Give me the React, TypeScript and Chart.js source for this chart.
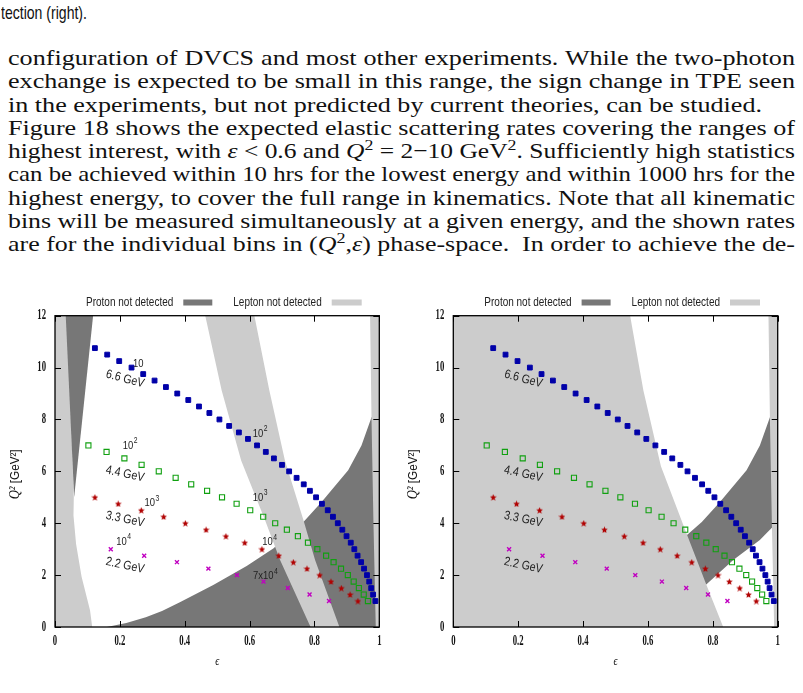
import React, { useEffect, useLayoutEffect, useRef } from 'react';
import { Chart, registerables } from 'chart.js';

Chart.register(...registerables);

// ---------------- data ----------------
const q2_66 = [10.75, 10.5, 10.25, 10.0, 9.75, 9.5, 9.25, 9.0, 8.75, 8.5, 8.25, 8.0, 7.75, 7.5, 7.25, 7.0, 6.75, 6.5, 6.25, 6.0, 5.75, 5.5, 5.25, 5.0, 4.75, 4.5, 4.25, 4.0, 3.75, 3.5, 3.25, 3.0, 2.75, 2.5, 2.25, 2.0, 1.75, 1.5, 1.25, 1.0];
const eps_66 = [0.123, 0.161, 0.198, 0.236, 0.272, 0.307, 0.342, 0.377, 0.411, 0.444, 0.476, 0.507, 0.537, 0.567, 0.595, 0.623, 0.65, 0.675, 0.7, 0.722, 0.745, 0.767, 0.786, 0.805, 0.823, 0.841, 0.857, 0.872, 0.886, 0.899, 0.912, 0.923, 0.933, 0.944, 0.953, 0.962, 0.969, 0.975, 0.981, 0.988];

const q2_44 = [7.0, 6.75, 6.5, 6.25, 6.0, 5.75, 5.5, 5.25, 5.0, 4.75, 4.5, 4.25, 4.0, 3.75, 3.5, 3.25, 3.0, 2.75, 2.5, 2.25, 2.0, 1.75, 1.5, 1.25, 1.0];
const eps_44 = [0.103, 0.159, 0.214, 0.267, 0.32, 0.372, 0.42, 0.469, 0.515, 0.56, 0.602, 0.642, 0.679, 0.715, 0.749, 0.78, 0.809, 0.836, 0.859, 0.882, 0.903, 0.921, 0.937, 0.952, 0.965];

const q2_33 = [5.0, 4.75, 4.5, 4.25, 4.0, 3.75, 3.5, 3.25, 3.0, 2.75, 2.5, 2.25, 2.0, 1.75, 1.5, 1.25, 1.0];
const eps_33 = [0.123, 0.195, 0.266, 0.335, 0.402, 0.466, 0.527, 0.585, 0.638, 0.69, 0.735, 0.777, 0.816, 0.851, 0.883, 0.91, 0.934];

const q2_22 = [3.0, 2.75, 2.5, 2.25, 2.0, 1.75, 1.5, 1.25, 1.0];
const eps_22 = [0.172, 0.275, 0.376, 0.473, 0.561, 0.643, 0.718, 0.785, 0.845];

const xMin = 0, xMax = 1, xStep = 0.2;
const yMin = 0, yMax = 12, yStep = 2;
const xTitle = 'ϵ';
const yTitleMath = 'Q²';
const yTitleUnit = ' [GeV²]';
const legendLabels = ['Proton not detected', 'Lepton not detected'];

const energyLabels = ['6.6 GeV', '4.4 GeV', '3.3 GeV', '2.2 GeV'];
const energyLabelEps = [0.216, 0.216, 0.216, 0.216];
const energyLabelQ2 = [9.56, 5.9, 4.15, 2.37];

const rateBase = ['10', '10', '10', '10', '10', '10', '10', '7x10'];
const rateExp = ['', '2', '3', '4', '2', '3', '4', '4'];
const rateEps = [0.257, 0.231, 0.298, 0.211, 0.632, 0.632, 0.661, 0.648];
const rateQ2 = [10.14, 7.0, 4.78, 3.3, 7.45, 4.99, 3.28, 1.96];

// region boundaries (eps, Q2)
const leftStripEps = [-0.02, 0.036, 0.058, 0.057, 0.065, 0.082, 0.108, 0.12, -0.02];
const leftStripQ2 = [12.5, 12.5, 5.0, 4.3, 3.2, 1.94, 0.65, -0.5, -0.5];
const wedgeEps = [0.032, 0.12, 0.059];
const wedgeQ2 = [12.3, 12.3, 5.0];
const bandEps = [0.458, 0.514, 0.574, 0.6475, 0.694, 0.788, 0.877, 0.802, 0.766, 0.709, 0.661, 0.61];
const bandQ2 = [12.3, 9.12, 6.42, 4.12, 2.58, 0, 0, 2.58, 4.12, 6.42, 9.12, 12.3];
const rightStripEps = [0.971, 1.05, 1.05, 0.99, 0.982, 0.976];
const rightStripQ2 = [12.5, 12.5, -0.5, -0.5, 4, 8];
const protonUpperEps = [0.16, 0.22, 0.28, 0.33, 0.385, 0.488, 0.591, 0.673, 0.766, 0.822, 0.904, 0.945, 0.976, 1.05];
const protonUpperQ2 = [0, 0.15, 0.38, 0.62, 0.95, 1.62, 2.35, 3.03, 4.05, 4.82, 6.04, 7.0, 8.09, 8.4];
const protonCloseEps = [1.05, 0.16];
const protonCloseQ2 = [-0.5, -0.5];
const rightLightEps = [-0.05, 0.538, 0.586, 0.64, 0.719, 0.781, 0.832, 0.85, -0.05];
const rightLightQ2 = [12.5, 12.5, 9.12, 6.2, 3.6, 1.6, 0, -0.5, -0.5];
const protonBandTopEps = [1.05, 0.976, 0.945, 0.904, 0.822, 0.766, 0.673];
const protonBandTopQ2 = [8.4, 8.09, 7.0, 6.04, 4.82, 4.05, 3.03];
const protonBandLowEps = [0.66, 0.74, 0.778, 0.863, 0.945, 0.985, 1.05];
const protonBandLowQ2 = [2.0, 1.3, 1.62, 2.58, 3.35, 3.86, 4.1];

// ---------------- styles ----------------
const SANS = '"Liberation Sans", "DejaVu Sans", sans-serif';
const SERIF = '"Liberation Serif", "DejaVu Serif", serif';
const DARK = '#777777';
const LIGHT = '#cccccc';
const BLUE = '#0000a8';
const GREEN = '#10a010';
const RED = '#b00000';
const MAGENTA = '#c000c0';

function pts(eps: number[], q2: number[]) {
  return eps.map((e, i) => ({ x: e, y: q2[i] }));
}

function makeStar(color: string, size: number) {
  const c = document.createElement('canvas');
  c.width = size;
  c.height = size;
  const g = c.getContext('2d')!;
  const cx = size / 2, cy = size / 2 + 0.3, R = size / 2, r = R * 0.45;
  g.beginPath();
  for (let i = 0; i < 10; i++) {
    const a = -Math.PI / 2 + (i * Math.PI) / 5;
    const rr = i % 2 === 0 ? R : r;
    g.lineTo(cx + rr * Math.cos(a), cy + rr * Math.sin(a));
  }
  g.closePath();
  g.fillStyle = color;
  g.fill();
  return c;
}

function region(label: string, data: any[], color: string, order: number) {
  return {
    label,
    data,
    showLine: true,
    fill: 'shape',
    backgroundColor: color,
    borderColor: 'rgba(0,0,0,0)',
    borderWidth: 0,
    pointRadius: 0,
    pointHoverRadius: 0,
    tension: 0,
    order,
  };
}

function drawText(ctx: CanvasRenderingContext2D, text: string, x: number, y: number, font: string, sx: number, align: CanvasTextAlign, rot = 0, color = '#111') {
  ctx.save();
  ctx.translate(x, y);
  if (rot) ctx.rotate(rot);
  ctx.scale(sx, 1);
  ctx.font = font;
  ctx.textAlign = align;
  ctx.textBaseline = 'middle';
  ctx.fillStyle = color;
  ctx.fillText(text, 0, 0);
  ctx.restore();
}

function drawSup(ctx: CanvasRenderingContext2D, base: string, sup: string, cx: number, cy: number, size: number, sx: number) {
  const fb = `${size}px ${SANS}`;
  const fs = `${size * 0.72}px ${SANS}`;
  ctx.save();
  ctx.font = fb;
  const wb = ctx.measureText(base).width;
  ctx.font = fs;
  const ws = sup ? ctx.measureText(sup).width : 0;
  const total = (wb + ws) * sx;
  ctx.translate(cx - total / 2, cy);
  ctx.scale(sx, 1);
  ctx.textAlign = 'left';
  ctx.textBaseline = 'middle';
  ctx.fillStyle = '#222';
  ctx.font = fb;
  ctx.fillText(base, 0, 0);
  if (sup) {
    ctx.font = fs;
    ctx.fillText(sup, wb + 0.5, -size * 0.4);
  }
  ctx.restore();
}

const decorPlugin = {
  id: 'decor',
  afterDatasetsDraw(chart: any, _args: any, opts: any) {
    const ctx: CanvasRenderingContext2D = chart.ctx;
    const { left, right, top, bottom } = chart.chartArea;
    const xs = chart.scales.x;
    const ys = chart.scales.y;
    ctx.save();
    ctx.strokeStyle = '#000';
    ctx.lineWidth = 1;
    const tl = 6;
    ctx.beginPath();
    for (const t of xs.ticks) {
      const px = Math.round(xs.getPixelForValue(t.value)) + 0.5;
      ctx.moveTo(px, bottom);
      ctx.lineTo(px, bottom - tl);
      ctx.moveTo(px, top);
      ctx.lineTo(px, top + tl);
    }
    for (const t of ys.ticks) {
      const py = Math.round(ys.getPixelForValue(t.value)) + 0.5;
      ctx.moveTo(left, py);
      ctx.lineTo(left + tl, py);
      ctx.moveTo(right, py);
      ctx.lineTo(right - tl, py);
    }
    ctx.stroke();
    ctx.lineWidth = 1.3;
    ctx.strokeRect(left, top, right - left, bottom - top);
    ctx.restore();

    // tick labels
    const tf = `bold 14.5px ${SERIF}`;
    for (const t of xs.ticks) {
      const px = xs.getPixelForValue(t.value);
      drawText(ctx, String(Number(t.value.toFixed(1))), px, bottom + 14.5, tf, 0.6, 'center');
    }
    for (const t of ys.ticks) {
      const py = ys.getPixelForValue(t.value);
      drawText(ctx, String(Number(t.value.toFixed(1))), left - 9, py, tf, 0.6, 'right');
    }
    // axis titles
    drawText(ctx, xTitle, (left + right) / 2, bottom + 35, `italic 12.5px ${SERIF}`, 0.8, 'center');
    ctx.save();
    ctx.translate(left - 40, (top + bottom) / 2 + 3);
    ctx.rotate(-Math.PI / 2);
    ctx.scale(0.9, 1);
    const fm = `italic 14px ${SERIF}`;
    const fu = `13px ${SANS}`;
    ctx.font = fm;
    const w1 = ctx.measureText(yTitleMath).width;
    ctx.font = fu;
    const w2 = ctx.measureText(yTitleUnit).width;
    ctx.textBaseline = 'middle';
    ctx.textAlign = 'left';
    ctx.fillStyle = '#111';
    ctx.font = fm;
    ctx.fillText(yTitleMath, -(w1 + w2) / 2, 0);
    ctx.font = fu;
    ctx.fillText(yTitleUnit, -(w1 + w2) / 2 + w1, 0);
    ctx.restore();

    // legend
    const ly = 12.5;
    const lf = `12.5px ${SANS}`;
    drawText(ctx, legendLabels[0], left + 118.3, ly, lf, 0.8, 'right', 0, '#222');
    ctx.fillStyle = DARK;
    ctx.fillRect(left + 128.3, ly - 3, 29, 6);
    drawText(ctx, legendLabels[1], left + 266.7, ly, lf, 0.8, 'right', 0, '#222');
    ctx.fillStyle = LIGHT;
    ctx.fillRect(left + 276.7, ly - 3, 30, 6);

    // energy labels
    energyLabels.forEach((lab, i) => {
      const px = xs.getPixelForValue(energyLabelEps[i]);
      const py = ys.getPixelForValue(energyLabelQ2[i]);
      const ang = ((i === 0 ? 15 : 12) * Math.PI) / 180;
      drawText(ctx, lab, px, py, `12.5px ${SANS}`, 0.85, 'center', ang, '#222');
    });
    // rate labels
    if (opts && opts.rates) {
      rateBase.forEach((b, i) => {
        const px = xs.getPixelForValue(rateEps[i]);
        const py = ys.getPixelForValue(rateQ2[i]);
        drawSup(ctx, b, rateExp[i], px, py, 11.5, 0.82);
      });
    }
  },
};

function buildConfig(side: 'left' | 'right', star: HTMLCanvasElement): any {
  const points = [
    { label: '6.6 GeV', data: pts(eps_66, q2_66), pointStyle: 'rect', pointRadius: 3.4, backgroundColor: BLUE, borderColor: BLUE, borderWidth: 1, order: 0 },
    { label: '4.4 GeV', data: pts(eps_44, q2_44), pointStyle: 'rect', pointRadius: 3.6, backgroundColor: 'rgba(0,0,0,0)', borderColor: GREEN, borderWidth: 1.1, order: 1 },
    { label: '3.3 GeV', data: pts(eps_33, q2_33), pointStyle: star, pointRadius: 3, backgroundColor: RED, borderColor: RED, order: 2 },
    { label: '2.2 GeV', data: pts(eps_22, q2_22), pointStyle: 'crossRot', pointRadius: 2.8, backgroundColor: MAGENTA, borderColor: MAGENTA, borderWidth: 1.4, order: 3 },
  ];
  const regions =
    side === 'left'
      ? [
          region('Lepton not detected (edge)', pts(rightStripEps, rightStripQ2), LIGHT, 10),
          region('Lepton not detected (band)', pts(bandEps, bandQ2), LIGHT, 11),
          region('Proton not detected', pts(protonUpperEps.concat(protonCloseEps), protonUpperQ2.concat(protonCloseQ2)), DARK, 12),
          region('Proton not detected (wedge)', pts(wedgeEps, wedgeQ2), DARK, 13),
          region('Lepton not detected (left)', pts(leftStripEps, leftStripQ2), LIGHT, 14),
        ]
      : [
          region('Lepton not detected (edge)', pts(rightStripEps, rightStripQ2), LIGHT, 10),
          region('Lepton not detected', pts(rightLightEps, rightLightQ2), LIGHT, 11),
          region('Proton not detected', pts(protonBandTopEps.concat(protonBandLowEps), protonBandTopQ2.concat(protonBandLowQ2)), DARK, 12),
        ];
  const padding =
    side === 'left'
      ? { left: 55, top: 25.7, right: 20.7, bottom: 66 }
      : { left: 53.3, top: 25.7, right: 25.3, bottom: 66 };
  return {
    type: 'scatter',
    data: { datasets: [...points, ...regions] },
    options: {
      responsive: false,
      animation: false,
      devicePixelRatio: 1,
      events: [],
      layout: { padding },
      scales: {
        x: { type: 'linear', min: xMin, max: xMax, display: false, ticks: { stepSize: xStep } },
        y: { type: 'linear', min: yMin, max: yMax, display: false, ticks: { stepSize: yStep } },
      },
      plugins: {
        legend: { display: false },
        tooltip: { enabled: false },
        decor: { rates: side === 'left' },
      },
    },
    plugins: [decorPlugin],
  };
}

function Plot({ side, left, width }: { side: 'left' | 'right'; left: number; width: number }) {
  const ref = useRef<HTMLCanvasElement>(null);
  useEffect(() => {
    const star = makeStar(RED, 7);
    const chart = new Chart(ref.current!, buildConfig(side, star));
    return () => chart.destroy();
  }, [side]);
  return (
    <canvas
      ref={ref}
      width={width}
      height={403}
      style={{ position: 'absolute', left, top: 290, width, height: 403 }}
    />
  );
}

// ---------------- paragraph ----------------
const TEXT_LEFT = 8;
const TEXT_WIDTH = 787;
const SHORT_LINE_WIDTH = 754; // width of the unjustified third line
const LINE_TOP = 46;
const LINE_STEP = 23.25;

const sup: React.CSSProperties = { fontSize: '0.7em', verticalAlign: '0.5em', lineHeight: 0 };

const paragraphLines: React.ReactNode[] = [
  'configuration of DVCS and most other experiments. While the two-photon',
  'exchange is expected to be small in this range, the sign change in TPE seen',
  'in the experiments, but not predicted by current theories, can be studied.',
  'Figure 18 shows the expected elastic scattering rates covering the ranges of',
  <>highest interest, with <i>ε</i> &lt; 0.6 and <i>Q</i><span style={sup}>2</span> = 2−10 GeV<span style={sup}>2</span>. Sufficiently high statistics</>,
  'can be achieved within 10 hrs for the lowest energy and within 1000 hrs for the',
  'highest energy, to cover the full range in kinematics. Note that all kinematic',
  'bins will be measured simultaneously at a given energy, and the shown rates',
  <>are for the individual bins in (<i>Q</i><span style={sup}>2</span>,<i>ε</i>) phase-space.&nbsp; In order to achieve the de-</>,
];
const justifiedLines = [true, true, false, true, true, true, true, true, true];

function Paragraph() {
  const refs = useRef<(HTMLDivElement | null)[]>([]);
  useLayoutEffect(() => {
    const els = refs.current;
    const widths = els.map((el) => (el ? el.getBoundingClientRect().width : 1));
    const shortIdx = justifiedLines.indexOf(false);
    const sTarget = SHORT_LINE_WIDTH / widths[shortIdx];
    els.forEach((el, i) => {
      if (!el) return;
      const w = widths[i];
      const s = justifiedLines[i] ? Math.min(sTarget, TEXT_WIDTH / w) : sTarget;
      el.style.display = 'block';
      el.style.width = justifiedLines[i] ? `${TEXT_WIDTH / s}px` : `${w}px`;
      el.style.transform = `scaleX(${s})`;
    });
  }, []);
  return (
    <>
      {paragraphLines.map((content, i) => (
        <div
          key={i}
          style={{ position: 'absolute', left: TEXT_LEFT, top: LINE_TOP + i * LINE_STEP, width: TEXT_WIDTH, height: 24 }}
        >
          <div
            ref={(el) => { refs.current[i] = el; }}
            style={{
              display: 'inline-block',
              whiteSpace: 'nowrap',
              fontFamily: SERIF,
              fontSize: 22,
              lineHeight: '23px',
              color: '#111',
              transformOrigin: 'left top',
              textAlign: justifiedLines[i] ? 'justify' : 'left',
              textAlignLast: justifiedLines[i] ? 'justify' : 'left',
            } as React.CSSProperties}
          >
            {content}
          </div>
        </div>
      ))}
    </>
  );
}

export default function App() {
  return (
    <div style={{ position: 'absolute', left: 0, top: 0, width: 803, height: 693, overflow: 'hidden', background: '#fff' }}>
      <div style={{ position: 'absolute', left: 1, top: 1, fontFamily: SANS, fontSize: 19, lineHeight: '24px', color: '#111', whiteSpace: 'nowrap', transform: 'scaleX(0.74)', transformOrigin: 'left top' }}>
        tection (right).
      </div>
      <Paragraph />
      <Plot side="left" left={0} width={400} />
      <Plot side="right" left={400} width={403} />
    </div>
  );
}
